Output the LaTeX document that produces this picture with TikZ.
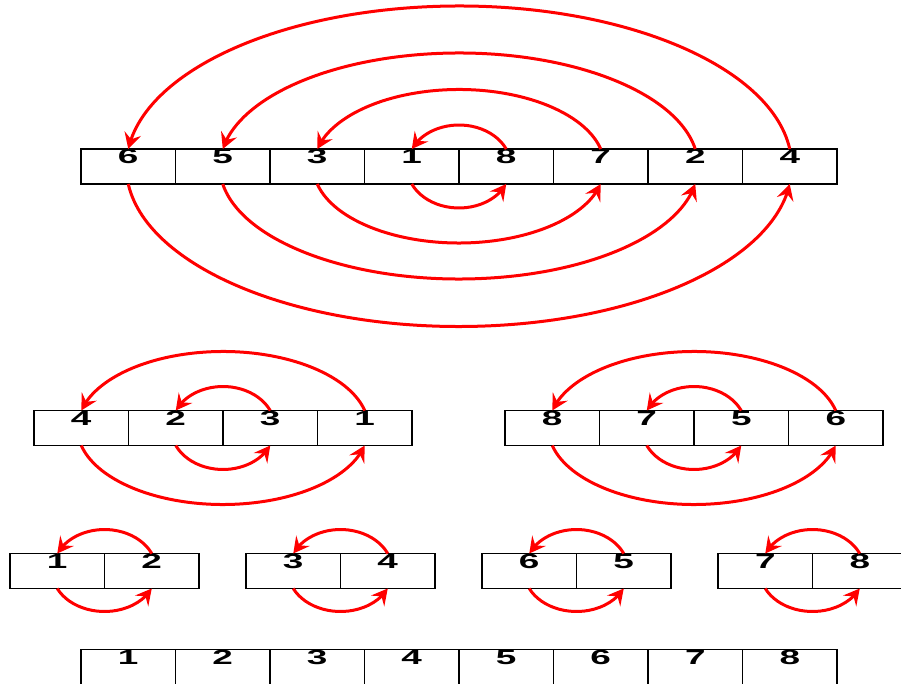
\documentclass[tikz,border=0pt]{standalone}
\usepackage{fontspec}
\newfontfamily\digitfont[FakeStretch=1.8]{Liberation Sans}
\usetikzlibrary{arrows.meta,bending,calc}

\begin{document}
\begin{tikzpicture}[x=1pt, y=1pt,
	cell/.style={draw, line width=1.4pt, minimum width=94.5pt, minimum height=35pt, inner sep=0pt, outer sep=0pt, text height=15pt, text depth=20pt, font=\digitfont\bfseries\fontsize{20.5}{20.5}\selectfont},
	swaparrow/.style={red, line width=3pt, -{Stealth[length=16pt, width=17pt, inset=6pt, flex]}},
	arcup/.style={to path={let \p1=(\tikztostart), \p2=(\tikztotarget), \n1={asin(17.5/(#1+17.5))}, \n2={abs(\x2-\x1)/2/cos(\n1)} in arc[start angle=\n1, end angle=180-\n1, x radius=\n2, y radius={(#1+17.5)*1pt}]}},
	arcdn/.style={to path={let \p1=(\tikztostart), \p2=(\tikztotarget), \n1={asin(17.5/(#1+17.5))}, \n2={abs(\x2-\x1)/2/cos(\n1)} in arc[start angle=180+\n1, end angle=360-\n1, x radius=\n2, y radius={(#1+17.5)*1pt}]}}]
	\useasboundingbox (0,0) rectangle (901,683);
	% top row: all eight
	\foreach \v [count=\i] in {6,5,3,1,8,7,2,4}
		\node[cell] (t\i) at ({128.25+94.5*(\i-1)},516.5) {\v};
	\draw[swaparrow] (t5.north) to[arcup=24] (t4.north);
	\draw[swaparrow] (t6.north) to[arcup=59.5] (t3.north);
	\draw[swaparrow] (t7.north) to[arcup=96] (t2.north);
	\draw[swaparrow] (t8.north) to[arcup=143] (t1.north);
	\draw[swaparrow] (t4.south) to[arcdn=24] (t5.south);
	\draw[swaparrow] (t3.south) to[arcdn=59] (t6.south);
	\draw[swaparrow] (t2.south) to[arcdn=95] (t7.south);
	\draw[swaparrow] (t1.south) to[arcdn=142.5] (t8.south);
	% second row: two halves
	\foreach \v [count=\i] in {4,2,3,1}
		\node[cell] (l\i) at ({81.25+94.5*(\i-1)},255) {\v};
	\foreach \v [count=\i] in {8,7,5,6}
		\node[cell] (r\i) at ({552.25+94.5*(\i-1)},255) {\v};
	\foreach \h in {l,r} {
		\draw[swaparrow] (\h3.north) to[arcup=24] (\h2.north);
		\draw[swaparrow] (\h4.north) to[arcup=59] (\h1.north);
		\draw[swaparrow] (\h2.south) to[arcdn=24] (\h3.south);
		\draw[swaparrow] (\h1.south) to[arcdn=59] (\h4.south);
	}
	% third row: pairs
	\foreach \v/\x [count=\i] in {1/57.25, 2/151.75, 3/293.25, 4/387.75, 6/529.25, 5/623.75, 7/765.25, 8/859.75}
		\node[cell] (p\i) at (\x,112) {\v};
	\foreach \j in {1,3,5,7} {
		\pgfmathtruncatemacro\k{\j+1}
		\draw[swaparrow] (p\k.north) to[arcup=24] (p\j.north);
		\draw[swaparrow] (p\j.south) to[arcdn=23] (p\k.south);
	}
	% sorted
	\foreach \v [count=\i] in {1,...,8}
		\node[cell] (s\i) at ({128.25+94.5*(\i-1)},16) {\v};
\end{tikzpicture}
\end{document}
